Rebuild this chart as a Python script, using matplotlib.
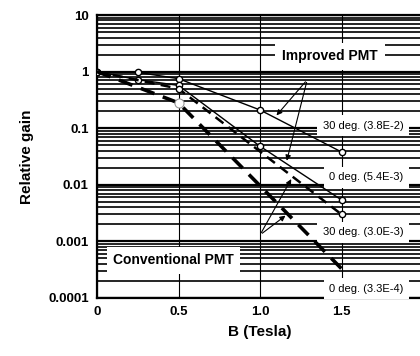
import numpy as np
import matplotlib
matplotlib.use("Agg")
import matplotlib.pyplot as plt
from matplotlib.ticker import FixedLocator, NullFormatter

plt.rcParams['font.family'] = ['Liberation Sans', 'DejaVu Sans']

# ---- data ----
b_imp = [0.0, 0.25, 0.5, 1.0, 1.5]
imp_30 = [1.0, 0.97, 0.75, 0.21, 0.038]
imp_0 = [1.0, 0.72, 0.57, 0.048, 0.0054]
b_conv = [0.0, 0.5, 1.5]
conv_30 = [1.0, 0.50, 0.0030]
conv_0 = [1.0, 0.28, 0.00033]

x_ticks = [0, 0.5, 1.0, 1.5]
x_ticklabels = ["0", "0.5", "1.0", "1.5"]
y_ticks = [1e-4, 1e-3, 1e-2, 1e-1, 1, 10]
y_ticklabels = ["0.0001", "0.001", "0.01", "0.1", "1", "10"]

labels_right = ["30 deg. (3.8E-2)", "0 deg. (5.4E-3)", "30 deg. (3.0E-3)", "0 deg. (3.3E-4)"]

fig = plt.figure(figsize=(4.2, 3.56), dpi=100)
ax = fig.add_axes([97/420, 1-298/356, (423-97)/420, (298-15)/356])
ax.set_yscale('log')
ax.set_xlim(0, 2.0)
ax.set_ylim(1e-4, 10)

# grid
minor = [m * 10.0**e for e in range(-4, 1) for m in range(2, 10)]
ax.yaxis.set_minor_locator(FixedLocator(minor))
ax.yaxis.set_minor_formatter(NullFormatter())
ax.set_yticks(y_ticks)
ax.set_yticklabels(y_ticklabels, fontweight='bold', fontsize=9.5)
ax.set_xticks(x_ticks)
ax.set_xticklabels(x_ticklabels, fontweight='bold', fontsize=9.5)
ax.tick_params(which='both', length=0, pad=6)
ax.grid(which='minor', axis='y', color='black', lw=1.2, zorder=1)
ax.grid(which='major', axis='y', color='black', lw=1.6, zorder=1)
ax.grid(which='major', axis='x', color='black', lw=0.8, zorder=1)
ax.set_axisbelow(True)
for s in ['left', 'bottom', 'top']:
    ax.spines[s].set_linewidth(1.6)

# lines
ax.plot(b_imp, imp_30, color='black', lw=1.0, marker='o', ms=4.5,
        mfc='white', mec='black', mew=1.0, zorder=5)
ax.plot(b_imp, imp_0, color='black', lw=1.0, marker='o', ms=4.5,
        mfc='white', mec='black', mew=1.0, zorder=5)
ax.plot(b_conv, conv_30, color='black', lw=1.8, dashes=(4, 2.5), zorder=5)
ax.plot(b_conv[1:], conv_30[1:], ls='none', marker='o', ms=4.5,
        mfc='white', mec='black', mew=1.0, zorder=6)
ax.plot(b_conv, conv_0, color='black', lw=2.6, dashes=(4, 2.5), zorder=5)
ax.plot(b_conv[1:2], conv_0[1:2], ls='none', marker='o', ms=6.5,
        mfc='white', mec='#999999', mew=0.8, zorder=6)

box = dict(boxstyle='square,pad=0.5', fc='white', ec='none')

def interp_log(xs, ys, x):
    return 10 ** np.interp(x, xs, np.log10(ys))

# Improved PMT label with arrows
ax.text(1.43, 1.85, "Improved PMT", fontsize=10, fontweight='bold',
        ha='center', va='center', bbox=box, zorder=3)
src_imp = (1.29, 0.72)
for xs, ys, xt in [(b_imp, imp_30, 1.09), (b_imp, imp_0, 1.16)]:
    ax.annotate("", xy=(xt, interp_log(xs, ys, xt)), xytext=src_imp,
                arrowprops=dict(arrowstyle='-|>', color='black', lw=0.8,
                                mutation_scale=8), zorder=7)

# Conventional PMT label with arrows
ax.text(0.47, 4.6e-4, "Conventional PMT", fontsize=10, fontweight='bold',
        ha='center', va='center', bbox=dict(boxstyle='square,pad=0.45', fc='white', ec='none'),
        zorder=3)
src_conv = (1.0, 1.3e-3)
for xs, ys, xt in [(b_conv, conv_30, 1.2), (b_conv, conv_0, 1.17)]:
    ax.annotate("", xy=(xt, interp_log(xs, ys, xt)), xytext=src_conv,
                arrowprops=dict(arrowstyle='-|>', color='black', lw=0.8,
                                mutation_scale=8), zorder=7)

# right labels
label_y = [0.11, 0.0135, 0.00145, 0.000145]
for txt, yy in zip(labels_right, label_y):
    ax.text(1.88, yy, txt, fontsize=8, ha='right', va='center',
            bbox=box, zorder=3)

ax.set_xlabel("B (Tesla)", fontsize=11, fontweight='bold', labelpad=5)
ax.set_ylabel("Relative gain", fontsize=11, fontweight='bold', labelpad=10)

fig.savefig("out.png", dpi=100)
